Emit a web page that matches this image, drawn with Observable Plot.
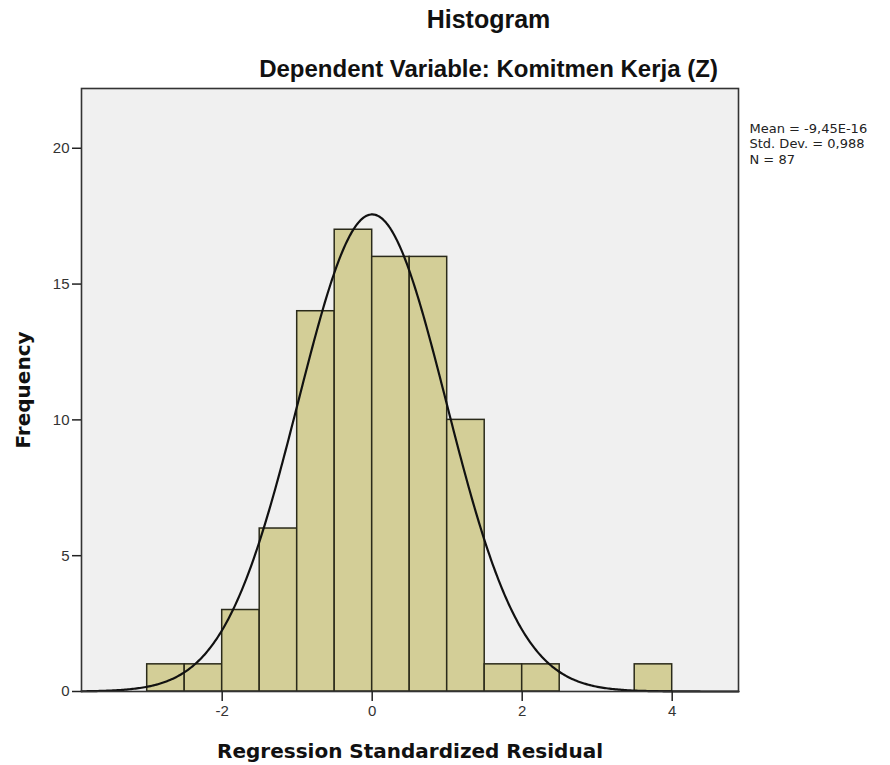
<!DOCTYPE html>
<html><head><meta charset="utf-8">
<script src="https://cdn.jsdelivr.net/npm/d3@7"></script>
<script src="https://cdn.jsdelivr.net/npm/@observablehq/plot@0.6"></script>
<style>body{margin:0;background:#fff;}</style>
</head><body><div id="chart"></div>
<script>
const binStarts = [-3, -2.5, -2, -1.5, -1, -0.5, 0, 0.5, 1, 1.5, 2, 3.5];
const binWidth = 0.5;
const counts = [1, 1, 3, 6, 14, 17, 16, 16, 10, 1, 1, 1];
const xTicks = [-2, 0, 2, 4];
const yTicks = [0, 5, 10, 15, 20];
const statMean = -9.45e-16;
const statSD = 0.988;
const statN = 87;
const statsLabels = ["Mean = -9,45E-16", "Std. Dev. = 0,988", "N = 87"];
const titleText = "Histogram";
const subtitleText = "Dependent Variable: Komitmen Kerja (Z)";
const xLabel = "Regression Standardized Residual";
const yLabel = "Frequency";

const xDomain = [-3.876, 4.884];
const yDomain = [0, 22.2];

const bins = binStarts.map((s, i) => ({x1: s, x2: s + binWidth, count: counts[i]}));
// normal curve implied by the reported mean, SD and N
const curveXs = d3.range(xDomain[0], xDomain[1] + 0.001, 0.02);
const curve = curveXs.map(x => ({
  x,
  y: statN * binWidth * Math.exp(-0.5 * ((x - statMean) / statSD) ** 2) / (statSD * Math.sqrt(2 * Math.PI))
}));

const font = "Liberation Sans, Arial, sans-serif";
const wide = "DejaVu Sans, Verdana, sans-serif";
const hyphen = d => (d < 0 ? "-" + Math.abs(d) : String(d));
const chart = Plot.plot({
  width: 890, height: 765,
  marginLeft: 81, marginRight: 152, marginTop: 88, marginBottom: 74,
  style: {fontFamily: font, fontSize: "15px", background: "#fff", overflow: "visible"},
  x: {domain: xDomain},
  y: {domain: yDomain},
  marks: [
    Plot.frame({fill: "#f0f0f0", stroke: "none"}),
    Plot.rectY(bins, {x1: "x1", x2: "x2", y: "count", fill: "#d3ce97", stroke: "#2a2a1a", strokeWidth: 1.5, inset: 0}),
    Plot.line(curve, {x: "x", y: "y", stroke: "#111", strokeWidth: 2.2, curve: "linear"}),
    Plot.frame({stroke: "#333", strokeWidth: 1.6}),
    Plot.axisX({ticks: xTicks, tickSize: 10, tickPadding: 4, stroke: "#222", strokeWidth: 1.5, fill: "#333", fontSize: 15, label: null, tickFormat: hyphen}),
    Plot.axisY({ticks: yTicks, tickSize: 9, tickPadding: 3, stroke: "#222", strokeWidth: 1.5, fill: "#333", fontSize: 15, label: null}),
    Plot.text([titleText], {frameAnchor: "top", dx: 78.5, dy: -68.5, fontSize: 25, fontWeight: "bold", fill: "#111", textAnchor: "middle", lineAnchor: "middle", fontFamily: font}),
    Plot.text([subtitleText], {frameAnchor: "top", dx: 78.5, dy: -19.5, fontSize: 24, fontWeight: "bold", fill: "#111", textAnchor: "middle", lineAnchor: "middle", fontFamily: font}),
    Plot.text([xLabel], {frameAnchor: "bottom", dy: 60, fontSize: 20, fontWeight: "bold", fill: "#111", textAnchor: "middle", lineAnchor: "middle", fontFamily: wide}),
    Plot.text([yLabel], {frameAnchor: "left", dx: -58, rotate: -90, fontSize: 20, fontWeight: "bold", fill: "#111", textAnchor: "middle", lineAnchor: "middle", fontFamily: wide}),
    Plot.text([statsLabels.join("\n")], {frameAnchor: "top-right", dx: 11, dy: 33, fontSize: 13, lineHeight: 1.2, fill: "#222", textAnchor: "start", lineAnchor: "top", fontFamily: wide})
  ]
});
document.getElementById("chart").appendChild(chart);
</script>
</body></html>
